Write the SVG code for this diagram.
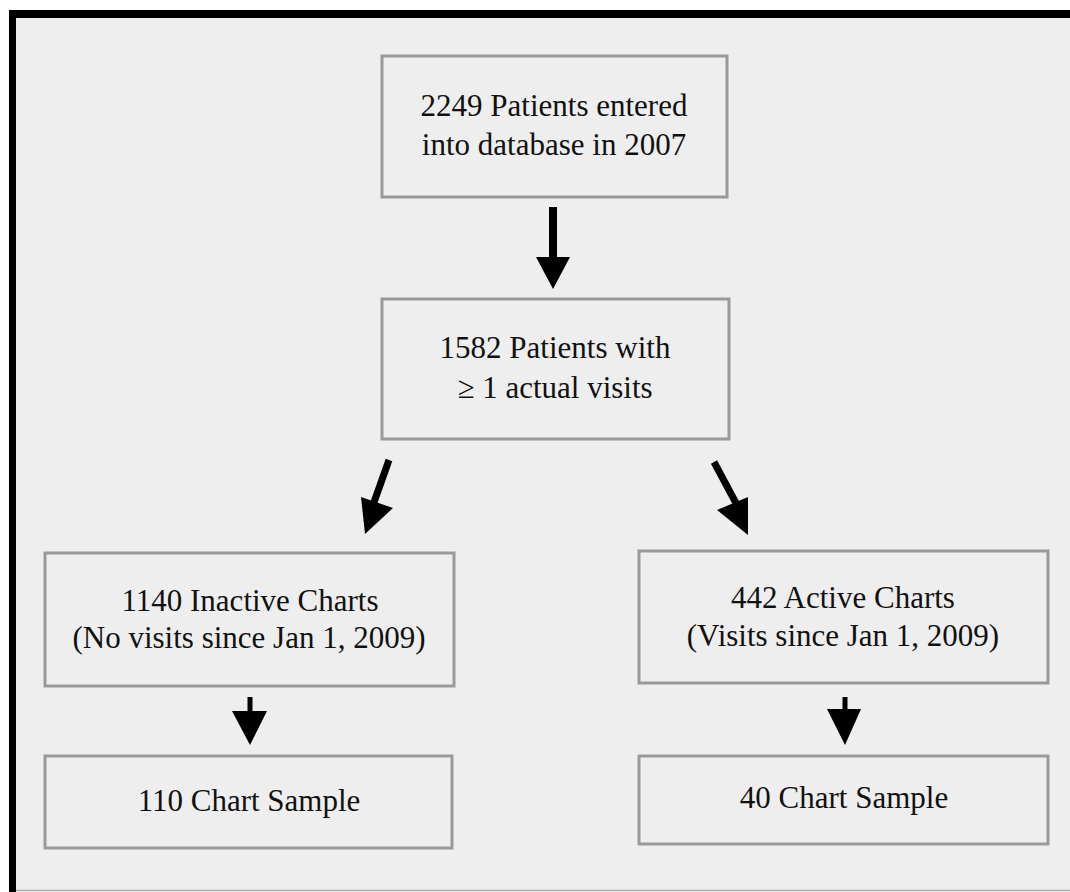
<svg xmlns="http://www.w3.org/2000/svg" width="1070" height="892" viewBox="0 0 1070 892">
<style>
.box{fill:#eeeeee;stroke:#999999;stroke-width:3}
.t{font-family:"Liberation Serif","Times New Roman",serif;font-size:31px;fill:#111111;text-anchor:middle}
.shaft{stroke:#000;fill:none}
.head{fill:#000}
</style>
<rect x="0" y="0" width="1070" height="892" fill="#ffffff"/>
<rect x="12" y="14" width="1070" height="876" fill="#eeeeee"/>
<line x1="9" y1="14" x2="1070" y2="14" stroke="#000" stroke-width="8"/>
<line x1="12.5" y1="10" x2="12.5" y2="892" stroke="#000" stroke-width="7"/>
<line x1="16" y1="890.5" x2="1070" y2="890.5" stroke="#aaaaaa" stroke-width="1.5"/>
<g id="n1"><rect class="box" x="382" y="56" width="345" height="141"/>
<text class="t" x="554" y="116">2249 Patients entered</text>
<text class="t" x="554" y="155">into database in 2007</text></g>
<g id="n2"><rect class="box" x="382" y="299" width="347" height="140"/>
<text class="t" x="555" y="358">1582 Patients with</text>
<text class="t" x="555" y="398">≥ 1 actual visits</text></g>
<g id="n3"><rect class="box" x="45" y="553" width="409" height="133"/>
<text class="t" x="250" y="611">1140 Inactive Charts</text>
<text class="t" x="249" y="648">(No visits since Jan 1, 2009)</text></g>
<g id="n4"><rect class="box" x="639" y="551" width="409" height="132"/>
<text class="t" x="843" y="608">442 Active Charts</text>
<text class="t" x="843" y="646">(Visits since Jan 1, 2009)</text></g>
<g id="n5"><rect class="box" x="45" y="756" width="407" height="92"/>
<text class="t" x="249" y="811">110 Chart Sample</text></g>
<g id="n6"><rect class="box" x="639" y="756" width="409" height="88"/>
<text class="t" x="844" y="808">40 Chart Sample</text></g>
<g id="connectors">
<line class="shaft" x1="553" y1="207" x2="553" y2="262" stroke-width="8"/>
<polygon class="head" points="536,257 570,257 553,289"/>
<line class="shaft" x1="389" y1="460" x2="373" y2="505" stroke-width="7"/>
<polygon class="head" points="361,497 393,508 365,534"/>
<line class="shaft" x1="714" y1="462" x2="737" y2="505" stroke-width="7"/>
<polygon class="head" points="717,510 748,497 748,535"/>
<line class="shaft" x1="250" y1="697" x2="250" y2="716" stroke-width="5"/>
<polygon class="head" points="232,711 267,711 250,745"/>
<line class="shaft" x1="845" y1="697" x2="845" y2="714" stroke-width="5"/>
<polygon class="head" points="827,709 861,709 845,745"/>
</g>
</svg>
